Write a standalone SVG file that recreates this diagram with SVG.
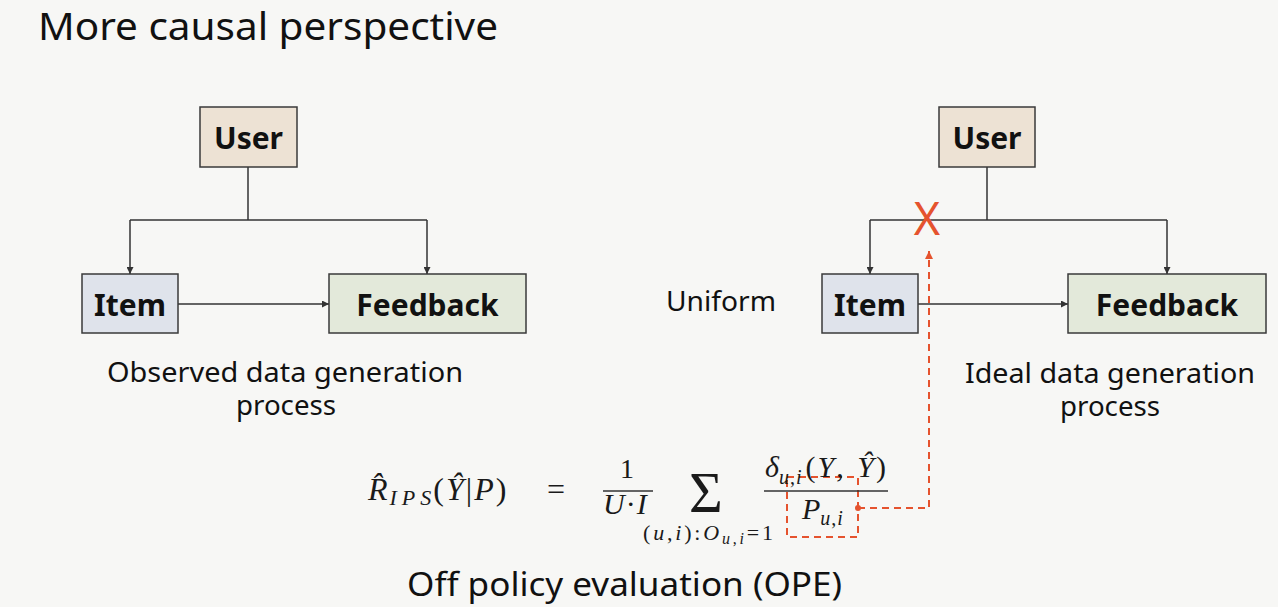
<svg xmlns="http://www.w3.org/2000/svg" width="1278" height="607" viewBox="0 0 1278 607">
<defs>
<style>
.bg{fill:#f7f7f5}
.box{stroke:#3a3a3a;stroke-width:1.5}
.user{fill:#ede2d4}
.item{fill:#dfe3eb}
.fb{fill:#e3e9da}
.nl{font-family:"Noto Sans","Liberation Sans",sans-serif;font-weight:bold;font-size:30px;fill:#111;text-anchor:middle}
.lbl{font-family:"Noto Sans","Liberation Sans",sans-serif;font-size:27px;fill:#111}
.title{font-family:"Noto Sans","Liberation Sans",sans-serif;font-size:39px;fill:#111}
.conn{fill:none;stroke:#333;stroke-width:1.5}
.red{fill:none;stroke:#e5532e;stroke-width:2;stroke-dasharray:7 5}
.m{font-family:"Liberation Serif","DejaVu Serif",serif;fill:#1a1a1a}
.i{font-style:italic}
.n{font-style:normal}
</style>
<marker id="ah" viewBox="0 0 10 10" refX="10" refY="5" markerWidth="7" markerHeight="7" orient="auto-start-reverse" markerUnits="userSpaceOnUse">
<path d="M0,0 L10,5 L0,10 z" fill="#333"/>
</marker>
<marker id="rah" viewBox="0 0 10 10" refX="10" refY="5" markerWidth="8" markerHeight="8" orient="auto" markerUnits="userSpaceOnUse">
<path d="M0,0 L10,5 L0,10 z" fill="#e5532e"/>
</marker>
<marker id="rdot" viewBox="0 0 10 10" refX="5" refY="5" markerWidth="6" markerHeight="6" markerUnits="userSpaceOnUse">
<circle cx="5" cy="5" r="5" fill="#e5532e"/>
</marker>
</defs>
<rect class="bg" x="0" y="0" width="1278" height="607"/>
<text class="title" x="38" y="40" textLength="460" lengthAdjust="spacingAndGlyphs">More causal perspective</text>

<g id="connectors">
<path class="conn" d="M248,167 V220"/>
<path class="conn" d="M130,220 H427"/>
<path class="conn" d="M130,220 V274" marker-end="url(#ah)"/>
<path class="conn" d="M427,220 V274" marker-end="url(#ah)"/>
<path class="conn" d="M178,304 H329" marker-end="url(#ah)"/>
<path class="conn" d="M987,167 V220"/>
<path class="conn" d="M870,220 H1167"/>
<path class="conn" d="M870,220 V274" marker-end="url(#ah)"/>
<path class="conn" d="M1167,220 V274" marker-end="url(#ah)"/>
<path class="conn" d="M918,304 H1068" marker-end="url(#ah)"/>
<path class="red" d="M858,508 H929 V251" marker-start="url(#rdot)" marker-end="url(#rah)"/>
<rect class="red" x="787" y="477" width="71" height="60"/>
</g>

<g id="cut">
<text x="927" y="235" font-family="Noto Sans,Liberation Sans,sans-serif" font-size="45" fill="#e5532e" text-anchor="middle">X</text>
</g>

<g id="user-left"><rect class="box user" x="200" y="107" width="97" height="60"/><text class="nl" x="248.5" y="149">User</text></g>
<g id="item-left"><rect class="box item" x="82" y="274" width="96" height="59"/><text class="nl" x="130" y="316">Item</text></g>
<g id="feedback-left"><rect class="box fb" x="329" y="274" width="197" height="59"/><text class="nl" x="427.5" y="316">Feedback</text></g>
<g id="label-left"><text class="lbl" x="107" y="382" textLength="356" lengthAdjust="spacingAndGlyphs">Observed data generation</text><text class="lbl" x="236" y="415" textLength="100" lengthAdjust="spacingAndGlyphs">process</text></g>

<g id="user-right"><rect class="box user" x="939" y="107" width="96" height="60"/><text class="nl" x="987" y="149">User</text></g>
<g id="item-right"><rect class="box item" x="822" y="274" width="96" height="59"/><text class="nl" x="870" y="316">Item</text></g>
<g id="feedback-right"><rect class="box fb" x="1068" y="274" width="198" height="59"/><text class="nl" x="1167" y="316">Feedback</text></g>
<g id="label-right"><text class="lbl" x="965" y="383" textLength="290" lengthAdjust="spacingAndGlyphs">Ideal data generation</text><text class="lbl" x="1060" y="416" textLength="100" lengthAdjust="spacingAndGlyphs">process</text></g>
<g id="uniform"><text class="lbl" x="666" y="311" textLength="110" lengthAdjust="spacingAndGlyphs">Uniform</text></g>

<g id="formula">
<text class="m i" x="368" y="500" font-size="32">R̂<tspan font-size="22" dy="5" dx="2" letter-spacing="5">IPS</tspan><tspan class="n" dy="-5" dx="-3" letter-spacing="2">(</tspan><tspan letter-spacing="2">Ŷ</tspan><tspan class="n" letter-spacing="2">|</tspan><tspan letter-spacing="2">P</tspan><tspan class="n">)</tspan></text>
<text class="m" x="547" y="500" font-size="32">=</text>
<text class="m" x="627" y="478" font-size="28" text-anchor="middle">1</text>
<line x1="603" y1="491" x2="653" y2="491" stroke="#333" stroke-width="1.5"/>
<text class="m i" x="603" y="514" font-size="30" letter-spacing="1">U<tspan class="n">·</tspan>I</text>
<text class="m" x="706" y="512" font-size="58" text-anchor="middle">Σ</text>
<text class="m i" x="643" y="540" font-size="22" textLength="130" lengthAdjust="spacing"><tspan class="n">(</tspan>u<tspan class="n">,</tspan>i<tspan class="n">):</tspan>O<tspan font-size="16" dy="4">u<tspan class="n">,</tspan>i</tspan><tspan class="n" dy="-4">=1</tspan></text>
<text class="m i" x="765" y="477" font-size="30">δ<tspan font-size="20" dy="7" letter-spacing="1">u<tspan class="n">,</tspan>i</tspan><tspan class="n" dy="-7" dx="3" letter-spacing="2">(</tspan><tspan letter-spacing="2">Y</tspan><tspan class="n" letter-spacing="3">, </tspan><tspan letter-spacing="2">Ŷ</tspan><tspan class="n">)</tspan></text>
<line x1="764" y1="491" x2="888" y2="491" stroke="#333" stroke-width="1.5"/>
<text class="m i" x="802" y="519" font-size="30">P<tspan font-size="20" dy="6" letter-spacing="1">u<tspan class="n">,</tspan>i</tspan></text>
</g>

<text x="407" y="596" font-family="Noto Sans,Liberation Sans,sans-serif" font-size="33" fill="#111" textLength="435" lengthAdjust="spacingAndGlyphs">Off policy evaluation (OPE)</text>
</svg>
